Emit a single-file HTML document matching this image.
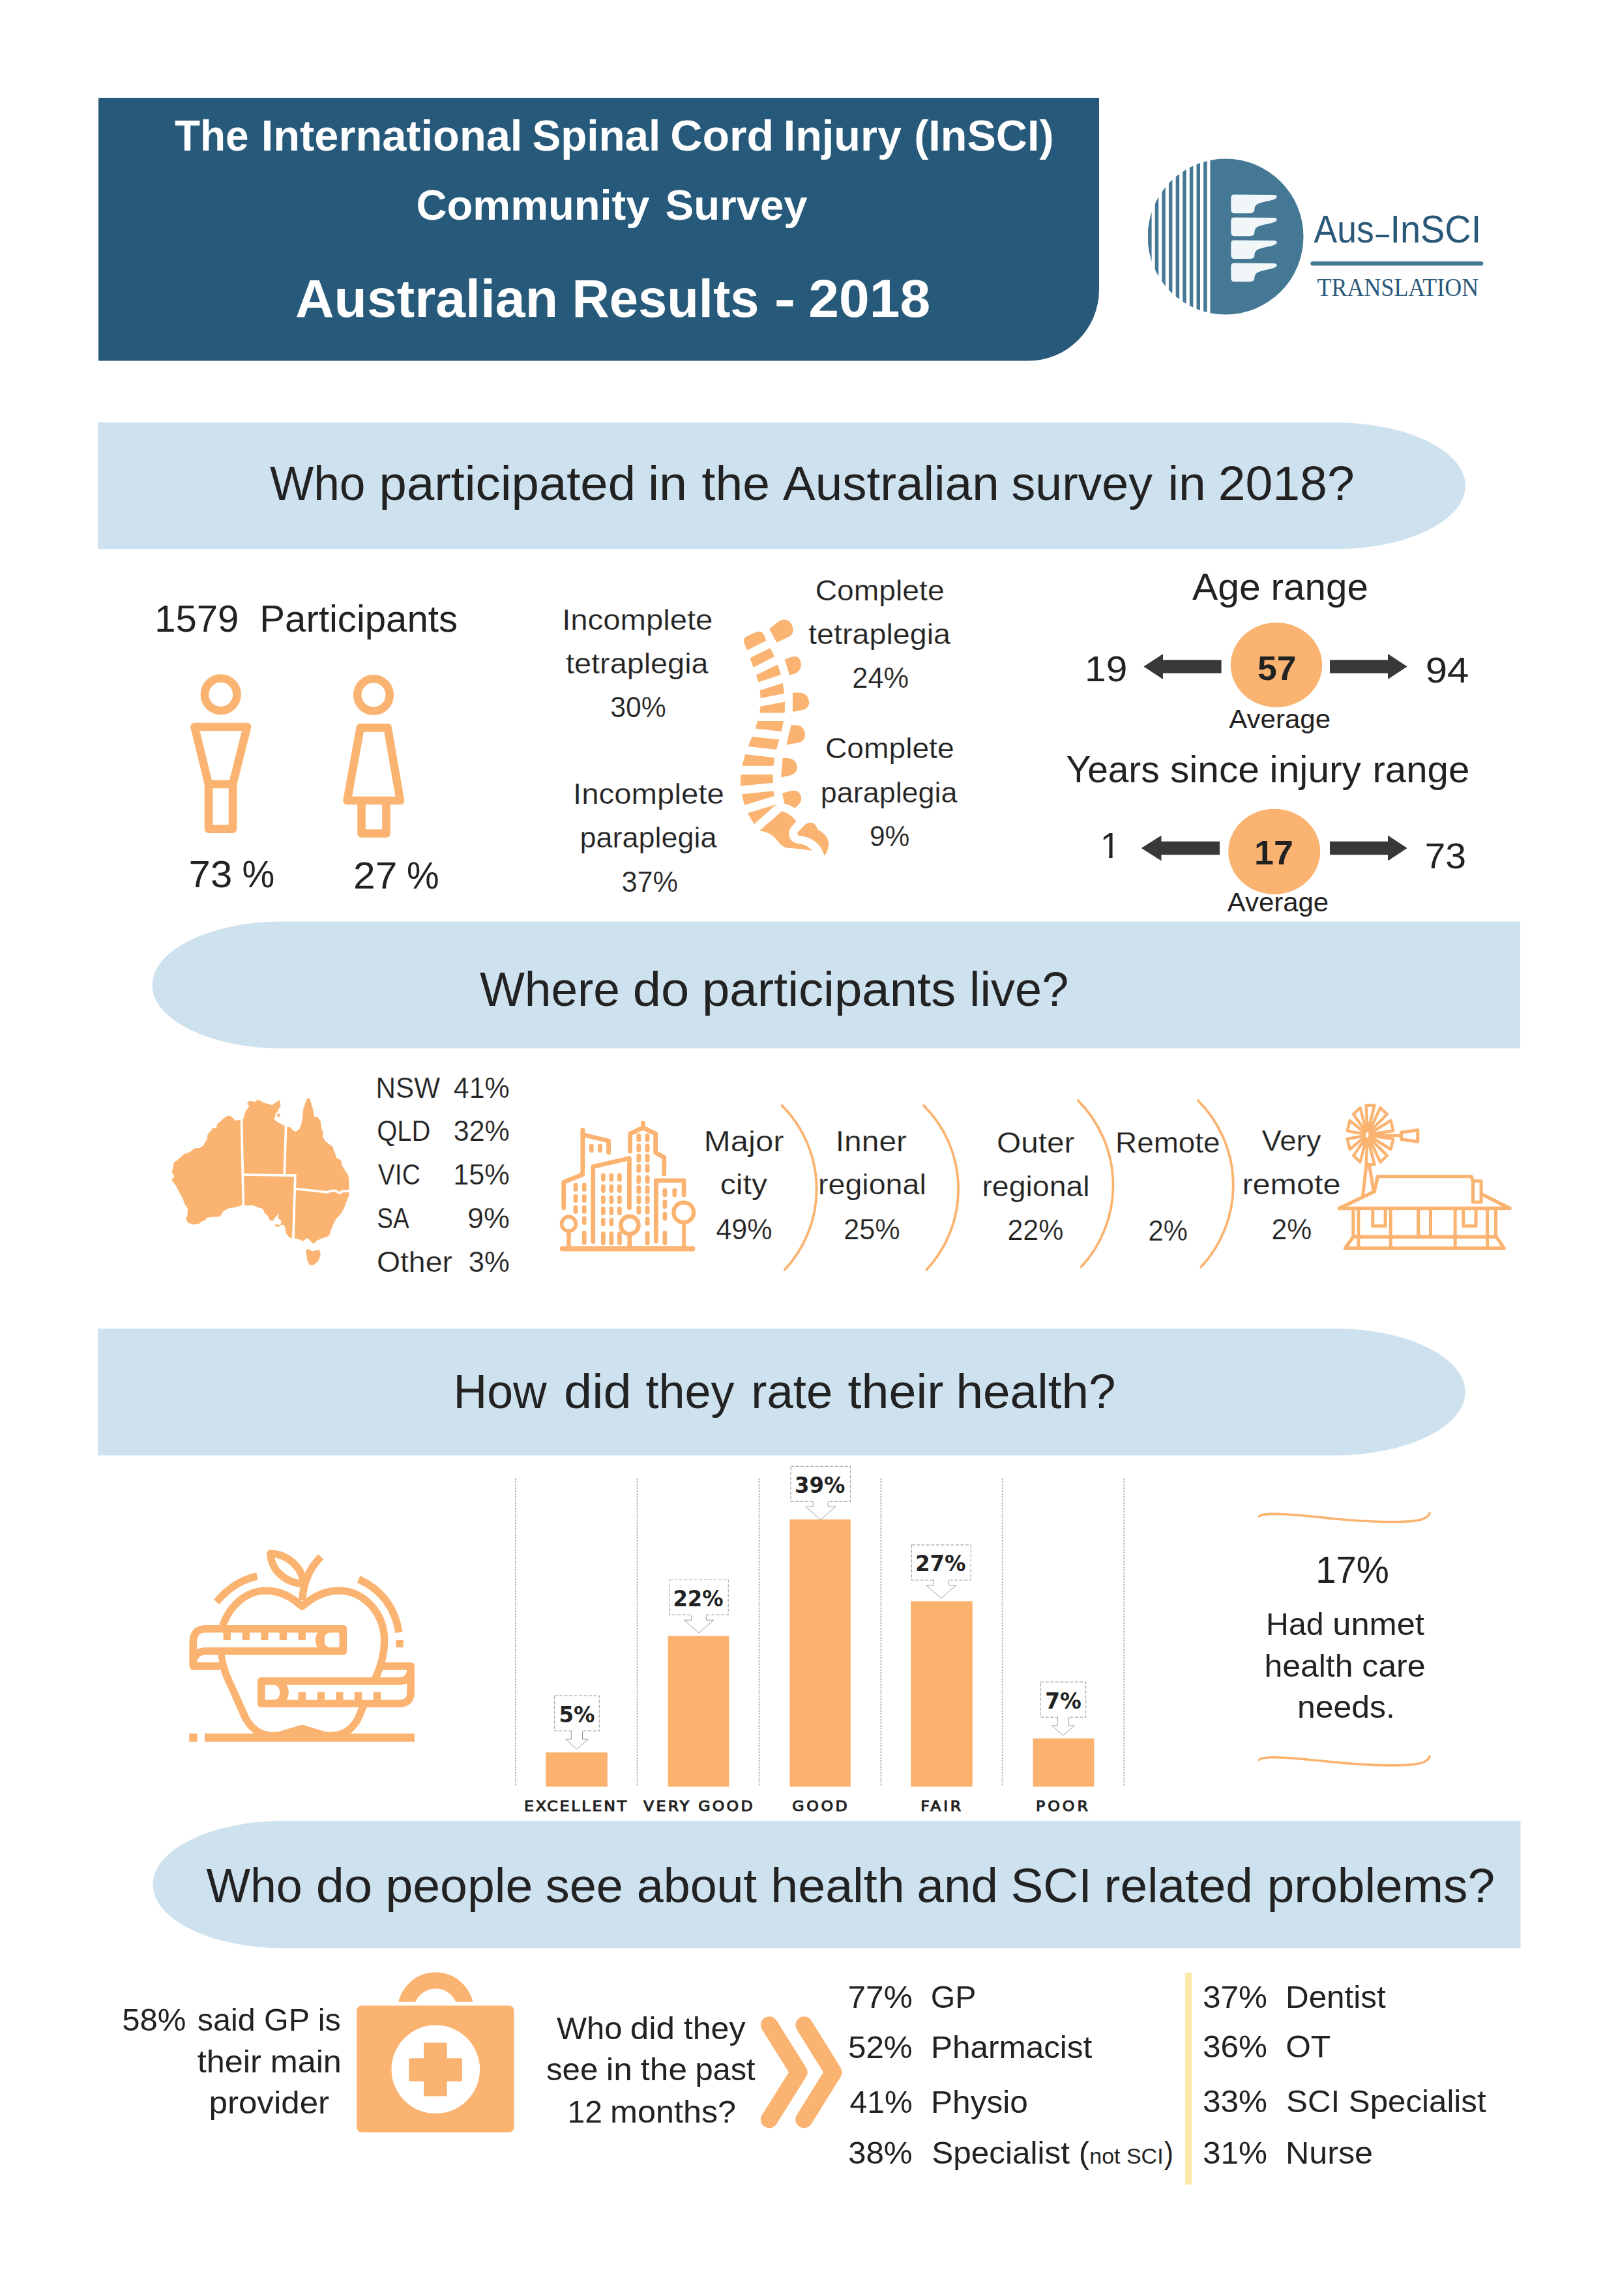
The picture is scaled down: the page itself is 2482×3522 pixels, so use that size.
<!DOCTYPE html>
<html lang="en"><head><meta charset="utf-8"><title>InSCI Community Survey - Australian Results 2018</title>
<style>
html,body{margin:0;padding:0;background:#ffffff}
svg{display:block}
text{white-space:pre}
.ls{font-family:"Liberation Sans",sans-serif;font-weight:400}
.lsb{font-family:"Liberation Sans",sans-serif;font-weight:700}
.lserif{font-family:"Liberation Serif",serif;font-weight:400}
.dvb{font-family:"DejaVu Sans",sans-serif;font-weight:700}
.dv{font-family:"DejaVu Sans",sans-serif;font-weight:400}
</style></head><body>
<svg width="2482" height="3522" viewBox="0 0 2482 3522">
<rect width="2482" height="3522" fill="#ffffff"/>
<!-- header -->
<path d="M151,150 H1686 V444.5 A109,109 0 0 1 1577,553.5 H151 Z" fill="#26597a"/>
<text class="lsb" x="267.9" y="231.0" font-size="65.8" fill="#ffffff" textLength="113.7" lengthAdjust="spacingAndGlyphs">The</text>
<text class="lsb" x="400.7" y="231.0" font-size="65.8" fill="#ffffff" textLength="400.7" lengthAdjust="spacingAndGlyphs">International</text>
<text class="lsb" x="816.5" y="231.0" font-size="65.8" fill="#ffffff" textLength="196.8" lengthAdjust="spacingAndGlyphs">Spinal</text>
<text class="lsb" x="1028.3" y="231.0" font-size="65.8" fill="#ffffff" textLength="158.9" lengthAdjust="spacingAndGlyphs">Cord</text>
<text class="lsb" x="1201.7" y="231.0" font-size="65.8" fill="#ffffff" textLength="181.3" lengthAdjust="spacingAndGlyphs">Injury</text>
<text class="lsb" x="1402.2" y="231.0" font-size="65.8" fill="#ffffff" textLength="214.4" lengthAdjust="spacingAndGlyphs">(InSCI)</text>
<text class="lsb" x="638.6" y="337.0" font-size="65.6" fill="#ffffff" textLength="357.8" lengthAdjust="spacingAndGlyphs">Community</text>
<text class="lsb" x="1020.6" y="337.0" font-size="65.6" fill="#ffffff" textLength="218.1" lengthAdjust="spacingAndGlyphs">Survey</text>
<text class="lsb" x="453.1" y="486.0" font-size="81.5" fill="#ffffff" textLength="402.9" lengthAdjust="spacingAndGlyphs">Australian</text>
<text class="lsb" x="877.4" y="486.0" font-size="81.5" fill="#ffffff" textLength="287.2" lengthAdjust="spacingAndGlyphs">Results</text>
<text class="lsb" x="1187.5" y="486.0" font-size="81.5" fill="#ffffff" textLength="32.9" lengthAdjust="spacingAndGlyphs">-</text>
<text class="lsb" x="1240.3" y="486.0" font-size="81.5" fill="#ffffff" textLength="186.8" lengthAdjust="spacingAndGlyphs">2018</text>
<!-- logo -->
<clipPath id="lc"><circle cx="1880" cy="363" r="119.5"/></clipPath>
<g clip-path="url(#lc)" fill="#447895">
<rect x="1856.4" y="240" width="150" height="250"/>
<rect x="1846.1" y="240" width="5.5" height="250"/>
<rect x="1835.5" y="240" width="5.5" height="250"/>
<rect x="1824.8" y="240" width="5.5" height="250"/>
<rect x="1814.2" y="240" width="5.5" height="250"/>
<rect x="1803.6" y="240" width="5.5" height="250"/>
<rect x="1792.9" y="240" width="5.5" height="250"/>
<rect x="1782.3" y="240" width="5.5" height="250"/>
<rect x="1771.7" y="240" width="5.5" height="250"/>
<rect x="1761.1" y="240" width="5.5" height="250"/>
</g>
<path transform="translate(1888,297.8)" d="M4,0.8 L67,1.3 Q71.5,1.8 70.5,5 Q69,8 60,10 Q47,12.5 41.5,15 Q36.8,17.5 36.5,22 L36,26 Q35,29 30,29.4 L5,29.4 Q0.5,29 0.3,24 L0.3,6 Q0.5,1 4,0.8 Z" fill="#f1f6f9"/>
<path transform="translate(1888,332.8)" d="M4,0.8 L67,1.3 Q71.5,1.8 70.5,5 Q69,8 60,10 Q47,12.5 41.5,15 Q36.8,17.5 36.5,22 L36,26 Q35,29 30,29.4 L5,29.4 Q0.5,29 0.3,24 L0.3,6 Q0.5,1 4,0.8 Z" fill="#f1f6f9"/>
<path transform="translate(1888,367.7)" d="M4,0.8 L67,1.3 Q71.5,1.8 70.5,5 Q69,8 60,10 Q47,12.5 41.5,15 Q36.8,17.5 36.5,22 L36,26 Q35,29 30,29.4 L5,29.4 Q0.5,29 0.3,24 L0.3,6 Q0.5,1 4,0.8 Z" fill="#f1f6f9"/>
<path transform="translate(1888,402.7)" d="M4,0.8 L67,1.3 Q71.5,1.8 70.5,5 Q69,8 60,10 Q47,12.5 41.5,15 Q36.8,17.5 36.5,22 L36,26 Q35,29 30,29.4 L5,29.4 Q0.5,29 0.3,24 L0.3,6 Q0.5,1 4,0.8 Z" fill="#f1f6f9"/>
<text class="ls" x="2015.6" y="372.3" font-size="59.5" fill="#2a5878" textLength="92.1" lengthAdjust="spacingAndGlyphs">Aus</text>
<text class="ls" x="2110.5" y="376.8" font-size="59.5" fill="#2a5878" textLength="20.4" lengthAdjust="spacingAndGlyphs">–</text>
<text class="ls" x="2132.4" y="372.3" font-size="59.5" fill="#2a5878" textLength="139.9" lengthAdjust="spacingAndGlyphs">InSCI</text>
<line x1="2013.6" y1="404.3" x2="2272" y2="404.3" stroke="#447895" stroke-width="6.5" stroke-linecap="round"/>
<text class="lserif" x="2020.6" y="454.3" font-size="39.8" fill="#2a5878" textLength="247.5" lengthAdjust="spacingAndGlyphs">TRANSLATION</text>
<!-- banners -->
<path d="M150,648 H2048 A200,97.14999999999998 0 0 1 2048,842.3 H150 Z" fill="#cee1ef"/>
<path d="M2332,1413.5 H433.5 A200,97.39999999999998 0 0 0 433.5,1608.3 H2332 Z" fill="#cee1ef"/>
<path d="M150,2038 H2047.6999999999998 A200,97.25 0 0 1 2047.6999999999998,2232.5 H150 Z" fill="#cee1ef"/>
<path d="M2332.5,2793.2 H434.5 A200,97.60000000000014 0 0 0 434.5,2988.4 H2332.5 Z" fill="#cee1ef"/>
<text class="ls" x="413.9" y="767.0" font-size="75" fill="#222222" textLength="146.6" lengthAdjust="spacingAndGlyphs">Who</text>
<text class="ls" x="581.6" y="767.0" font-size="75" fill="#222222" textLength="393.4" lengthAdjust="spacingAndGlyphs">participated</text>
<text class="ls" x="993.9" y="767.0" font-size="75" fill="#222222" textLength="60.2" lengthAdjust="spacingAndGlyphs">in</text>
<text class="ls" x="1076.6" y="767.0" font-size="75" fill="#222222" textLength="104.3" lengthAdjust="spacingAndGlyphs">the</text>
<text class="ls" x="1201.1" y="767.0" font-size="75" fill="#222222" textLength="331.5" lengthAdjust="spacingAndGlyphs">Australian</text>
<text class="ls" x="1551.6" y="767.0" font-size="75" fill="#222222" textLength="216.3" lengthAdjust="spacingAndGlyphs">survey</text>
<text class="ls" x="1791.4" y="767.0" font-size="75" fill="#222222" textLength="58.4" lengthAdjust="spacingAndGlyphs">in</text>
<text class="ls" x="1868.7" y="767.0" font-size="75" fill="#222222" textLength="209.0" lengthAdjust="spacingAndGlyphs">2018?</text>
<text class="ls" x="735.9" y="1543.2" font-size="75" fill="#222222" textLength="215.1" lengthAdjust="spacingAndGlyphs">Where</text>
<text class="ls" x="970.8" y="1543.2" font-size="75" fill="#222222" textLength="86.5" lengthAdjust="spacingAndGlyphs">do</text>
<text class="ls" x="1077.0" y="1543.2" font-size="75" fill="#222222" textLength="389.2" lengthAdjust="spacingAndGlyphs">participants</text>
<text class="ls" x="1487.1" y="1543.2" font-size="75" fill="#222222" textLength="152.2" lengthAdjust="spacingAndGlyphs">live?</text>
<text class="ls" x="695.5" y="2159.7" font-size="75" fill="#222222" textLength="143.2" lengthAdjust="spacingAndGlyphs">How</text>
<text class="ls" x="865.1" y="2159.7" font-size="75" fill="#222222" textLength="103.5" lengthAdjust="spacingAndGlyphs">did</text>
<text class="ls" x="990.4" y="2159.7" font-size="75" fill="#222222" textLength="136.1" lengthAdjust="spacingAndGlyphs">they</text>
<text class="ls" x="1152.3" y="2159.7" font-size="75" fill="#222222" textLength="125.0" lengthAdjust="spacingAndGlyphs">rate</text>
<text class="ls" x="1300.6" y="2159.7" font-size="75" fill="#222222" textLength="146.7" lengthAdjust="spacingAndGlyphs">their</text>
<text class="ls" x="1466.6" y="2159.7" font-size="75" fill="#222222" textLength="244.9" lengthAdjust="spacingAndGlyphs">health?</text>
<text class="ls" x="316.4" y="2917.8" font-size="74.3" fill="#222222" textLength="147.2" lengthAdjust="spacingAndGlyphs">Who</text>
<text class="ls" x="484.8" y="2917.8" font-size="74.3" fill="#222222" textLength="86.4" lengthAdjust="spacingAndGlyphs">do</text>
<text class="ls" x="591.4" y="2917.8" font-size="74.3" fill="#222222" textLength="226.0" lengthAdjust="spacingAndGlyphs">people</text>
<text class="ls" x="836.8" y="2917.8" font-size="74.3" fill="#222222" textLength="119.2" lengthAdjust="spacingAndGlyphs">see</text>
<text class="ls" x="976.7" y="2917.8" font-size="74.3" fill="#222222" textLength="184.4" lengthAdjust="spacingAndGlyphs">about</text>
<text class="ls" x="1182.3" y="2917.8" font-size="74.3" fill="#222222" textLength="205.4" lengthAdjust="spacingAndGlyphs">health</text>
<text class="ls" x="1406.6" y="2917.8" font-size="74.3" fill="#222222" textLength="124.3" lengthAdjust="spacingAndGlyphs">and</text>
<text class="ls" x="1550.6" y="2917.8" font-size="74.3" fill="#222222" textLength="124.3" lengthAdjust="spacingAndGlyphs">SCI</text>
<text class="ls" x="1693.5" y="2917.8" font-size="74.3" fill="#222222" textLength="228.4" lengthAdjust="spacingAndGlyphs">related</text>
<text class="ls" x="1943.7" y="2917.8" font-size="74.3" fill="#222222" textLength="349.3" lengthAdjust="spacingAndGlyphs">problems?</text>
<!-- participants -->
<text class="ls" x="237.2" y="968.6" font-size="57" fill="#222222" textLength="129.0" lengthAdjust="spacingAndGlyphs">1579</text>
<text class="ls" x="398.3" y="968.6" font-size="57" fill="#222222" textLength="303.7" lengthAdjust="spacingAndGlyphs">Participants</text>
<g fill="none" stroke="#fab370" stroke-width="12.6" stroke-linejoin="round">
<circle cx="338.7" cy="1065.3" r="24.8"/>
<path d="M298.5,1115 H379 L357,1203 V1271.6 H320 V1203 Z M320,1203 H357"/>
<circle cx="573" cy="1066" r="24.8"/>
<path d="M552.7,1116.4 H594.6 L614,1228 H532.6 Z"/>
<path d="M554.5,1228 V1278.5 H592.5 V1228"/>
</g>
<text class="ls" x="289.6" y="1360.8" font-size="57.5" fill="#222222" textLength="66.6" lengthAdjust="spacingAndGlyphs">73</text>
<text class="ls" x="371.6" y="1360.8" font-size="57.5" fill="#222222" textLength="49.7" lengthAdjust="spacingAndGlyphs">%</text>
<text class="ls" x="542.1" y="1362.9" font-size="57.5" fill="#222222" textLength="67.3" lengthAdjust="spacingAndGlyphs">27</text>
<text class="ls" x="624.1" y="1362.9" font-size="57.5" fill="#222222" textLength="49.6" lengthAdjust="spacingAndGlyphs">%</text>
<text class="ls" x="862.2" y="965.8" font-size="43.5" fill="#222222" textLength="231.2" lengthAdjust="spacingAndGlyphs" stroke="#ffffff" stroke-width="0.25">Incomplete</text>
<text class="ls" x="868.0" y="1032.5" font-size="43.5" fill="#222222" textLength="218.6" lengthAdjust="spacingAndGlyphs" stroke="#ffffff" stroke-width="0.25">tetraplegia</text>
<text class="ls" x="936.2" y="1099.7" font-size="43.5" fill="#222222" textLength="85.6" lengthAdjust="spacingAndGlyphs" stroke="#ffffff" stroke-width="0.25">30%</text>
<text class="ls" x="1250.7" y="921.4" font-size="43.5" fill="#222222" textLength="198.0" lengthAdjust="spacingAndGlyphs" stroke="#ffffff" stroke-width="0.25">Complete</text>
<text class="ls" x="1240.1" y="988.2" font-size="43.5" fill="#222222" textLength="218.0" lengthAdjust="spacingAndGlyphs" stroke="#ffffff" stroke-width="0.25">tetraplegia</text>
<text class="ls" x="1307.3" y="1055.3" font-size="43.5" fill="#222222" textLength="86.7" lengthAdjust="spacingAndGlyphs" stroke="#ffffff" stroke-width="0.25">24%</text>
<text class="ls" x="1266.0" y="1163.4" font-size="43.5" fill="#222222" textLength="197.6" lengthAdjust="spacingAndGlyphs" stroke="#ffffff" stroke-width="0.25">Complete</text>
<text class="ls" x="1258.7" y="1230.8" font-size="43.5" fill="#222222" textLength="209.9" lengthAdjust="spacingAndGlyphs" stroke="#ffffff" stroke-width="0.25">paraplegia</text>
<text class="ls" x="1333.9" y="1297.7" font-size="43.5" fill="#222222" textLength="61.5" lengthAdjust="spacingAndGlyphs" stroke="#ffffff" stroke-width="0.25">9%</text>
<text class="ls" x="879.1" y="1233.4" font-size="43.5" fill="#222222" textLength="231.7" lengthAdjust="spacingAndGlyphs" stroke="#ffffff" stroke-width="0.25">Incomplete</text>
<text class="ls" x="889.6" y="1300.1" font-size="43.5" fill="#222222" textLength="209.9" lengthAdjust="spacingAndGlyphs" stroke="#ffffff" stroke-width="0.25">paraplegia</text>
<text class="ls" x="953.4" y="1367.8" font-size="43.5" fill="#222222" textLength="86.8" lengthAdjust="spacingAndGlyphs" stroke="#ffffff" stroke-width="0.25">37%</text>
<!-- spine -->
<g fill="#fab370">
<path d="M1146.1,997.6 L1141.5,986.5 Q1139,978.5 1147,975.3 L1160.5,969.6 Q1168,967 1171.5,973.3 L1175.5,982.6 Z"/>
<path d="M1180.1,964.7 L1195.6,952.4 Q1205,947.5 1212,954.5 Q1218.5,962.5 1216,970 Q1214.5,974.5 1210,977 L1191.4,985.4 Z"/>
<path d="M1150.5,1009.3 L1181.5,994.1 L1188,1007.2 L1155.5,1023.8 Z"/>
<path d="M1159.9,1035.4 L1192.8,1019.5 L1198,1035.1 L1163.3,1046.6 Z"/>
<path d="M1203.7,1011.4 L1214.5,1007.5 Q1226,1004.5 1228.5,1016 Q1230,1029 1220,1033 L1211.2,1035.8 Z"/>
<path d="M1165.7,1059 L1200.7,1047.7 L1203.2,1063.8 L1166.8,1071 Z"/>
<path d="M1166.5,1083.7 L1204.1,1076.4 L1203.7,1093.6 L1165.2,1093.6 Z"/>
<path d="M1216.1,1062.4 L1227,1062.4 Q1239,1063.5 1241.3,1076.6 Q1241.5,1086 1232,1089 L1215.9,1092.1 Z"/>
<path d="M1162,1106 L1202,1106 L1198.8,1122.1 L1158.7,1117.6 Z"/>
<path d="M1213.5,1112.3 L1223,1112.3 Q1233.5,1114 1235.2,1127 Q1234.5,1137 1225,1139.3 L1206.2,1142.6 Z"/>
<path d="M1153.6,1130 L1195.4,1134.5 L1190.9,1149.7 L1147.8,1144.9 Z"/>
<path d="M1143.3,1157 L1188.3,1162.2 L1186.4,1174.8 L1138.1,1174.8 Z"/>
<path d="M1200.7,1163.1 L1209,1163.1 Q1221.5,1164.5 1222.8,1177 Q1222.5,1186.5 1213,1189.2 L1198,1192.5 Z"/>
<path d="M1136.3,1188.3 L1185.4,1188.1 L1186,1200.7 L1136,1205.8 Z"/>
<path d="M1137.9,1218.2 L1186.4,1213.2 L1188,1221.1 L1141.9,1235 Z"/>
<path d="M1200.1,1216.7 L1214,1213 Q1226,1211 1229,1222 Q1230,1229 1226,1233 L1219.8,1239.8 Q1212,1234.5 1203,1232.2 Z"/>
<path d="M1147,1247.3 L1190.9,1234 L1156.8,1264.2 Z"/>
<path d="M1165.2,1274.2 L1199.5,1244.3 Q1213,1248 1221.4,1260.3 Q1213,1268 1211,1274 Q1208,1285 1217,1291.5 Q1222,1294.5 1230.3,1295 Q1238,1296.5 1246.1,1304.9 Q1222,1301 1207.2,1300.7 Q1199,1299 1192,1289 Q1183,1276.5 1165.2,1274.2 Z"/>
<path d="M1223.5,1276.6 L1235.6,1264.5 Q1243,1259.5 1249,1263.5 Q1252.5,1267 1254.5,1272.4 Q1265,1278 1269,1286 Q1275,1299 1264.5,1312.8 Q1261,1299 1250,1290.5 Q1240,1283.5 1225.5,1281.8 Q1222,1279.5 1223.5,1276.6 Z"/>
</g>
<!-- age -->
<text class="ls" x="1829.0" y="919.6" font-size="57.5" fill="#222222" textLength="104.7" lengthAdjust="spacingAndGlyphs">Age</text>
<text class="ls" x="1949.6" y="919.6" font-size="57.5" fill="#222222" textLength="149.3" lengthAdjust="spacingAndGlyphs">range</text>
<text class="ls" x="1635.5" y="1200.3" font-size="57.5" fill="#222222" textLength="143.2" lengthAdjust="spacingAndGlyphs">Years</text>
<text class="ls" x="1795.0" y="1200.3" font-size="57.5" fill="#222222" textLength="136.9" lengthAdjust="spacingAndGlyphs">since</text>
<text class="ls" x="1947.6" y="1200.3" font-size="57.5" fill="#222222" textLength="140.4" lengthAdjust="spacingAndGlyphs">injury</text>
<text class="ls" x="2105.5" y="1200.3" font-size="57.5" fill="#222222" textLength="148.8" lengthAdjust="spacingAndGlyphs">range</text>
<ellipse cx="1958" cy="1020" rx="70.2" ry="65" fill="#fab370"/>
<ellipse cx="1954.7" cy="1306.2" rx="70.5" ry="65.5" fill="#fab370"/>
<text class="lsb" x="1928.9" y="1043.2" font-size="51.5" fill="#222222" textLength="59.5" lengthAdjust="spacingAndGlyphs">57</text>
<text class="lsb" x="1924.1" y="1326.3" font-size="51.5" fill="#222222" textLength="59.9" lengthAdjust="spacingAndGlyphs">17</text>
<text class="ls" x="1664.1" y="1044.7" font-size="56" fill="#222222" textLength="65.2" lengthAdjust="spacingAndGlyphs">19</text>
<text class="ls" x="2186.7" y="1047.0" font-size="56" fill="#222222" textLength="66.6" lengthAdjust="spacingAndGlyphs">94</text>
<clipPath id="one"><rect x="1680" y="1270" width="40" height="40.5"/><rect x="1701.2" y="1270" width="5.4" height="47"/></clipPath>
<text class="ls" x="1687.5" y="1315.9" font-size="56" fill="#222222" clip-path="url(#one)">1</text>
<text class="ls" x="2185.5" y="1332.2" font-size="56" fill="#222222" textLength="63.6" lengthAdjust="spacingAndGlyphs">73</text>
<text class="ls" x="1885.3" y="1116.6" font-size="41.4" fill="#222222" textLength="155.7" lengthAdjust="spacingAndGlyphs">Average</text>
<text class="ls" x="1882.8" y="1397.7" font-size="41.4" fill="#222222" textLength="155.2" lengthAdjust="spacingAndGlyphs">Average</text>
<path d="M1754.3,1022.5 L1784,1003.0 V1012.3 H1873.6 V1032.7 H1784 V1042.0 Z" fill="#383838"/>
<path d="M2158.7,1022.5 L2129,1003.0 V1012.3 H2040 V1032.7 H2129 V1042.0 Z" fill="#383838"/>
<path d="M1750.8,1301 L1781.5,1281.5 V1290.8 H1871 V1311.2 H1781.5 V1320.5 Z" fill="#383838"/>
<path d="M2158.7,1301 L2129,1281.5 V1290.8 H2040 V1311.2 H2129 V1320.5 Z" fill="#383838"/>
<!-- australia -->
<g transform="translate(250,1670) scale(0.18541)">
<polygon points="640,262 600,268 570,240 545,225 515,240 490,262 465,285 450,300 448,322 405,335 420,365 400,350 385,365 370,390 372,415 355,440 335,475 300,495 265,497 235,520 210,535 185,540 150,570 115,600 95,610 88,650 78,690 100,730 75,755 110,800 135,850 165,900 180,945 210,995 205,1050 192,1080 210,1105 245,1120 295,1115 325,1092 350,1085 355,1065 400,1057 465,1055 480,1040 495,1012 545,985 600,978 650,960 700,963 745,960 790,980 830,990 840,1020 870,1050 885,1085 905,1090 935,1050 955,1030 965,1020 955,1070 975,1080 985,1105 975,1125 1000,1120 1015,1150 1020,1190 1040,1220 1065,1235 1100,1235 1135,1245 1155,1258 1195,1230 1215,1250 1245,1278 1270,1255 1310,1235 1360,1220 1375,1205 1385,1170 1405,1120 1430,1075 1470,1030 1495,985 1515,930 1535,880 1535,780 1530,720 1505,680 1475,635 1470,595 1430,575 1425,545 1410,515 1400,480 1370,460 1335,430 1320,400 1320,360 1305,320 1300,270 1275,235 1250,240 1240,180 1225,130 1210,85 1195,85 1180,125 1165,170 1160,230 1150,290 1130,340 1095,362 1070,345 1055,325 1010,318 985,300 945,280 915,255 925,225 930,200 945,190 955,160 970,145 960,100 905,140 870,130 830,120 800,100 775,100 770,115 750,110 715,105 700,125 720,140 700,170 685,195 675,230 665,258" fill="#fab370" stroke="#fab370" stroke-width="8" stroke-linejoin="round"/>
<polygon points="1185,1340 1200,1330 1240,1350 1290,1335 1300,1375 1280,1425 1245,1455 1215,1455 1195,1410 1190,1370" fill="#fab370" stroke="#fab370" stroke-width="8" stroke-linejoin="round"/>
<rect x="945" y="208" width="24" height="22" fill="#fab370"/>
<ellipse cx="947" cy="1132" rx="24" ry="9" fill="#fab370"/>
<g fill="none" stroke="#ffffff" stroke-width="20">
<path d="M650,250 L665,965"/>
<path d="M1017,310 L1005,708"/>
<path d="M665,712 L1094,718 L1078,1240"/>
<path d="M1092,828 L1360,857 Q1400,835 1440,850 Q1460,875 1480,850 L1545,845"/>
</g></g>
<text class="ls" x="576.6" y="1683.6" font-size="43.5" fill="#222222" textLength="98.5" lengthAdjust="spacingAndGlyphs" stroke="#ffffff" stroke-width="0.25">NSW</text>
<text class="ls" x="695.8" y="1683.6" font-size="43.5" fill="#222222" textLength="85.9" lengthAdjust="spacingAndGlyphs" stroke="#ffffff" stroke-width="0.25">41%</text>
<text class="ls" x="578.2" y="1749.8" font-size="43.5" fill="#222222" textLength="82.2" lengthAdjust="spacingAndGlyphs" stroke="#ffffff" stroke-width="0.25">QLD</text>
<text class="ls" x="695.8" y="1749.8" font-size="43.5" fill="#222222" textLength="86.0" lengthAdjust="spacingAndGlyphs" stroke="#ffffff" stroke-width="0.25">32%</text>
<text class="ls" x="579.8" y="1816.9" font-size="43.5" fill="#222222" textLength="65.1" lengthAdjust="spacingAndGlyphs" stroke="#ffffff" stroke-width="0.25">VIC</text>
<text class="ls" x="695.2" y="1816.9" font-size="43.5" fill="#222222" textLength="86.6" lengthAdjust="spacingAndGlyphs" stroke="#ffffff" stroke-width="0.25">15%</text>
<text class="ls" x="578.3" y="1883.9" font-size="43.5" fill="#222222" textLength="49.4" lengthAdjust="spacingAndGlyphs" stroke="#ffffff" stroke-width="0.25">SA</text>
<text class="ls" x="717.0" y="1883.9" font-size="43.5" fill="#222222" textLength="64.8" lengthAdjust="spacingAndGlyphs" stroke="#ffffff" stroke-width="0.25">9%</text>
<text class="ls" x="577.9" y="1951.0" font-size="43.5" fill="#222222" textLength="116.0" lengthAdjust="spacingAndGlyphs" stroke="#ffffff" stroke-width="0.25">Other</text>
<text class="ls" x="718.8" y="1951.0" font-size="43.5" fill="#222222" textLength="63.0" lengthAdjust="spacingAndGlyphs" stroke="#ffffff" stroke-width="0.25">3%</text>
<!-- city -->
<g transform="translate(850,1700) scale(0.14215)" fill="none" stroke="#fab370" stroke-width="48" stroke-linecap="round" stroke-linejoin="round">
<path d="M90,1516 H1495" stroke-width="55"/>
<path d="M103,1075 V798 L308,716 V235 M308,285 L588,352 V478"/>
<path d="M420,1440 V630 L812,540 V1075"/>
<path d="M960,160 V205 M820,465 V275 L960,210 L1095,275 V478 L1187,530 V710"/>
<path d="M1100,1435 V780 H1400 V935"/>
<path d="M403,410 V455"/>
<path d="M495,410 V455"/>
<path d="M232,830 V875"/>
<path d="M232,950 V995"/>
<path d="M232,1070 V1115"/>
<path d="M325,830 V875"/>
<path d="M325,950 V995"/>
<path d="M325,1070 V1115"/>
<path d="M325,1190 V1235"/>
<path d="M325,1345 V1450"/>
<path d="M530,725 V770"/>
<path d="M530,845 V890"/>
<path d="M530,965 V1010"/>
<path d="M530,1085 V1130"/>
<path d="M530,1355 V1455"/>
<path d="M618,725 V770"/>
<path d="M618,845 V890"/>
<path d="M618,965 V1010"/>
<path d="M618,1085 V1130"/>
<path d="M618,1355 V1455"/>
<path d="M706,725 V770"/>
<path d="M706,845 V890"/>
<path d="M706,965 V1010"/>
<path d="M706,1085 V1130"/>
<path d="M706,1355 V1455"/>
<path d="M530,1205 V1250"/>
<path d="M618,1205 V1250"/>
<path d="M913,295 V342"/>
<path d="M1007,295 V342"/>
<path d="M913,405 V452"/>
<path d="M1007,405 V452"/>
<path d="M913,515 V562"/>
<path d="M1007,515 V562"/>
<path d="M913,625 V672"/>
<path d="M1007,625 V672"/>
<path d="M913,745 V792"/>
<path d="M1007,745 V792"/>
<path d="M913,855 V902"/>
<path d="M1007,855 V902"/>
<path d="M913,965 V1012"/>
<path d="M1007,965 V1012"/>
<path d="M913,1075 V1122"/>
<path d="M1007,1075 V1122"/>
<path d="M1007,1195 V1245"/>
<path d="M1007,1350 V1455"/>
<path d="M1195,885 V935"/>
<path d="M1300,885 V935"/>
<path d="M1195,1010 V1060"/>
<path d="M1195,1140 V1190"/>
<path d="M1195,1345 V1455"/>
<circle cx="158" cy="1248" r="77" fill="#ffffff" stroke-width="40"/><path d="M158,1335 V1500" stroke-width="45"/>
<circle cx="815" cy="1262" r="96" fill="#ffffff" stroke-width="46"/><path d="M815,1370 V1500" stroke-width="48"/>
<circle cx="1398" cy="1125" r="108" fill="#ffffff" stroke-width="44"/><path d="M1400,1245 V1500" stroke-width="40"/>
</g>
<text class="ls" x="1079.8" y="1765.9" font-size="43.5" fill="#222222" textLength="122.9" lengthAdjust="spacingAndGlyphs" stroke="#ffffff" stroke-width="0.25">Major</text>
<text class="ls" x="1104.7" y="1832.2" font-size="43.5" fill="#222222" textLength="72.3" lengthAdjust="spacingAndGlyphs" stroke="#ffffff" stroke-width="0.25">city</text>
<text class="ls" x="1098.4" y="1900.8" font-size="43.5" fill="#222222" textLength="86.3" lengthAdjust="spacingAndGlyphs" stroke="#ffffff" stroke-width="0.25">49%</text>
<text class="ls" x="1281.8" y="1765.9" font-size="43.5" fill="#222222" textLength="109.2" lengthAdjust="spacingAndGlyphs" stroke="#ffffff" stroke-width="0.25">Inner</text>
<text class="ls" x="1255.0" y="1832.2" font-size="43.5" fill="#222222" textLength="165.8" lengthAdjust="spacingAndGlyphs" stroke="#ffffff" stroke-width="0.25">regional</text>
<text class="ls" x="1294.2" y="1900.8" font-size="43.5" fill="#222222" textLength="86.5" lengthAdjust="spacingAndGlyphs" stroke="#ffffff" stroke-width="0.25">25%</text>
<text class="ls" x="1529.0" y="1767.9" font-size="43.5" fill="#222222" textLength="119.5" lengthAdjust="spacingAndGlyphs" stroke="#ffffff" stroke-width="0.25">Outer</text>
<text class="ls" x="1506.4" y="1834.9" font-size="43.5" fill="#222222" textLength="165.2" lengthAdjust="spacingAndGlyphs" stroke="#ffffff" stroke-width="0.25">regional</text>
<text class="ls" x="1545.4" y="1902.4" font-size="43.5" fill="#222222" textLength="86.1" lengthAdjust="spacingAndGlyphs" stroke="#ffffff" stroke-width="0.25">22%</text>
<text class="ls" x="1711.1" y="1767.5" font-size="43.5" fill="#222222" textLength="160.4" lengthAdjust="spacingAndGlyphs" stroke="#ffffff" stroke-width="0.25">Remote</text>
<text class="ls" x="1761.6" y="1903.0" font-size="43.5" fill="#222222" textLength="60.3" lengthAdjust="spacingAndGlyphs" stroke="#ffffff" stroke-width="0.25">2%</text>
<text class="ls" x="1935.4" y="1765.2" font-size="43.5" fill="#222222" textLength="91.1" lengthAdjust="spacingAndGlyphs" stroke="#ffffff" stroke-width="0.25">Very</text>
<text class="ls" x="1905.4" y="1832.2" font-size="43.5" fill="#222222" textLength="151.2" lengthAdjust="spacingAndGlyphs" stroke="#ffffff" stroke-width="0.25">remote</text>
<text class="ls" x="1950.6" y="1900.8" font-size="43.5" fill="#222222" textLength="61.7" lengthAdjust="spacingAndGlyphs" stroke="#ffffff" stroke-width="0.25">2%</text>
<path d="M1199.5,1695.9 A181.1,181.1 0 0 1 1203.8,1947.7" fill="none" stroke="#fab370" stroke-width="3.8" stroke-linecap="round"/>
<path d="M1417,1695.9 A181.1,181.1 0 0 1 1421.3,1947.7" fill="none" stroke="#fab370" stroke-width="3.8" stroke-linecap="round"/>
<path d="M1653.7,1688.2 A184.3,184.3 0 0 1 1658.6,1943.4" fill="none" stroke="#fab370" stroke-width="3.8" stroke-linecap="round"/>
<path d="M1837.7,1688.2 A183.6,183.6 0 0 1 1842.5,1943.4" fill="none" stroke="#fab370" stroke-width="3.8" stroke-linecap="round"/>
<!-- farm -->
<g transform="translate(2040,1680) scale(0.17923)" fill="none" stroke="#fab370" stroke-width="28" stroke-linecap="round" stroke-linejoin="round">
<path d="M80,968 H1540 M80,968 L380,825 L410,695 H1210 L1225,735 M1305,850 L1540,968" stroke-width="30"/>
<rect x="1225" y="735" width="70" height="180"/>
<path d="M312,600 L282,860 M338,600 L375,825"/>
<path d="M200,985 V1200"/>
<path d="M245,985 V1300"/>
<path d="M520,985 V1300"/>
<path d="M757,985 V1200"/>
<path d="M862,985 V1200"/>
<path d="M1072,985 V1300"/>
<path d="M1348,985 V1300"/>
<path d="M1420,985 V1200"/>
<path d="M367,985 V1120 H475 V985 M1143,985 V1120 H1250 V985"/>
<path d="M200,1212 H1425 M200,1212 L130,1310 H1490 L1425,1212" stroke-width="30"/>
<g stroke-width="25">
<path d="M322,322 L310,87 L382,87 Z"/>
<path d="M329,325 L432,108 L490,163 Z"/>
<path d="M333,334 L521,217 L543,306 Z"/>
<path d="M333,346 L543,374 L521,463 Z"/>
<path d="M329,355 L490,517 L432,572 Z"/>
<path d="M322,358 L382,593 L310,593 Z"/>
<path d="M315,355 L260,572 L202,517 Z"/>
<path d="M311,346 L171,463 L149,374 Z"/>
<path d="M311,334 L149,306 L171,217 Z"/>
<path d="M315,325 L202,163 L260,108 Z"/>
</g>
<ellipse cx="320" cy="340" rx="24" ry="36" fill="#ffffff" stroke-width="24"/>
<path d="M350,342 L610,346" stroke-width="26"/>
<path d="M612,318 L752,298 V398 L612,378 Z"/>
</g>
<!-- apple -->
<g transform="translate(260,2340) scale(0.25958)" fill="none" stroke="#fab370" stroke-width="44" stroke-linejoin="round">
<rect x="208" y="1230" width="1240" height="48" fill="#fab370" stroke="none"/><rect x="116" y="1230" width="48" height="48" fill="#fab370" stroke="none"/>
<path d="M783,478 C720,420 650,385 570,385 C430,385 300,520 300,700 C300,800 330,880 370,960 L450,1140 C500,1230 580,1250 650,1240 L783,1200 L916,1240 C990,1250 1070,1230 1115,1140 L1190,960 C1240,860 1270,780 1270,680 C1270,520 1150,385 1000,385 C920,385 850,420 783,478 Z" fill="#ffffff"/>
<path d="M690,1245 L783,1208 L876,1245 Z" fill="#fab370" stroke="none"/>
<path d="M785,440 C790,340 830,250 895,185"/>
<path d="M597,165 C700,170 790,250 790,345 C680,340 600,260 597,165 Z" fill="#ffffff"/>
<path d="M278,452 Q380,330 518,300"/>
<path d="M1118,318 Q1320,410 1356,632"/>
<rect x="1338" y="678" width="44" height="43" fill="#fab370" stroke="none"/>
<path d="M300,831 H140 V690 Q140,611 215,611 H1026 V743 H215 Q150,743 140,805" fill="#ffffff"/>
<path d="M140,743 V831 H300 L285,765 H210" fill="#ffffff" stroke="none"/>
<path d="M300,831 H140 V690 Q140,611 215,611 H1026 V743 H215 Q150,743 140,805"/>
<path d="M340,632 V678"/>
<path d="M452,632 V678"/>
<path d="M562,632 V678"/>
<path d="M672,632 V678"/>
<path d="M783,632 V678"/>
<path d="M905,628 Q865,677 905,726"/>
<path d="M880,632 H960 Q915,632 915,677 Q915,722 960,722 H880 Z" fill="#fab370" stroke="none"/>
<path d="M1262,831 H1426 V985 Q1426,1053 1355,1053 H542 V920 H1355 Q1418,920 1426,860" fill="#ffffff"/>
<path d="M1262,831 H1426 V985 Q1426,1053 1355,1053 H542 V920 H1355 Q1418,920 1426,860"/>
<path d="M783,985 V1032"/>
<path d="M895,985 V1032"/>
<path d="M1005,985 V1032"/>
<path d="M1115,985 V1032"/>
<path d="M1227,985 V1032"/>
<path d="M662,938 Q702,987 662,1036"/>
<path d="M690,942 H605 Q652,942 652,987 Q652,1032 605,1032 H690 Z" fill="#fab370" stroke="none"/>
</g>
<!-- chart -->
<line x1="790.9" y1="2268" x2="790.9" y2="2740" stroke="#b4b4b4" stroke-width="2" stroke-dasharray="2.5,2"/>
<line x1="977.6" y1="2268" x2="977.6" y2="2740" stroke="#b4b4b4" stroke-width="2" stroke-dasharray="2.5,2"/>
<line x1="1164.6" y1="2268" x2="1164.6" y2="2740" stroke="#b4b4b4" stroke-width="2" stroke-dasharray="2.5,2"/>
<line x1="1351.4" y1="2268" x2="1351.4" y2="2740" stroke="#b4b4b4" stroke-width="2" stroke-dasharray="2.5,2"/>
<line x1="1537.7" y1="2268" x2="1537.7" y2="2740" stroke="#b4b4b4" stroke-width="2" stroke-dasharray="2.5,2"/>
<line x1="1724.2" y1="2268" x2="1724.2" y2="2740" stroke="#b4b4b4" stroke-width="2" stroke-dasharray="2.5,2"/>
<rect x="837.3" y="2688.2" width="94.5" height="52.4" fill="#fbb26e"/>
<path d="M876.3,2655.2 V2668.1 H867.7 L884.9,2683.2 L902.1,2668.1 H893.5 V2655.2" fill="#ffffff" stroke="#9a9a9a" stroke-width="1"/>
<rect x="850.5" y="2601.2" width="68.8" height="54" fill="#ffffff" stroke="#a8a8a8" stroke-width="1.2" stroke-dasharray="5,2.5"/>
<rect x="876.9" y="2653.7" width="16.0" height="3" fill="#ffffff"/>
<text class="dvb" x="857.4" y="2641.7" font-size="33.3" fill="#222222" textLength="55.0" lengthAdjust="spacingAndGlyphs">5%</text>
<text class="dv" transform="translate(804.0,2777.8) scale(1.14,1)" font-size="20.7" fill="#222222" letter-spacing="2.54" stroke="#222222" stroke-width="1">EXCELLENT</text>
<rect x="1024.5" y="2509.5" width="94.0" height="231.1" fill="#fbb26e"/>
<path d="M1060.8,2477 V2485.2 H1049.5 L1072.1,2505.0 L1094.6,2485.2 H1083.4 V2477" fill="#ffffff" stroke="#9a9a9a" stroke-width="1"/>
<rect x="1027" y="2423" width="90.2" height="54" fill="#ffffff" stroke="#a8a8a8" stroke-width="1.2" stroke-dasharray="5,2.5"/>
<rect x="1061.4" y="2475.5" width="21.4" height="3" fill="#ffffff"/>
<text class="dvb" x="1032.4" y="2463.5" font-size="33.3" fill="#222222" textLength="77.2" lengthAdjust="spacingAndGlyphs">22%</text>
<text class="dv" transform="translate(987.1,2777.8) scale(1.14,1)" font-size="20.7" fill="#222222" letter-spacing="2.86" stroke="#222222" stroke-width="1">VERY GOOD</text>
<rect x="1211.5" y="2330.6" width="93.3" height="410.0" fill="#fbb26e"/>
<path d="M1247.3,2303.3 V2311.2 H1235.9 L1258.8,2331.3 L1281.6,2311.2 H1270.2 V2303.3" fill="#ffffff" stroke="#9a9a9a" stroke-width="1"/>
<rect x="1213" y="2249.3" width="91.5" height="54" fill="#ffffff" stroke="#a8a8a8" stroke-width="1.2" stroke-dasharray="5,2.5"/>
<rect x="1247.9" y="2301.8" width="21.7" height="3" fill="#ffffff"/>
<text class="dvb" x="1218.9" y="2289.8" font-size="33.3" fill="#222222" textLength="77.4" lengthAdjust="spacingAndGlyphs">39%</text>
<text class="dv" transform="translate(1215.3,2777.8) scale(1.14,1)" font-size="20.7" fill="#222222" letter-spacing="3.18" stroke="#222222" stroke-width="1">GOOD</text>
<rect x="1397.2" y="2456.3" width="94.6" height="284.3" fill="#fbb26e"/>
<path d="M1432.5,2423.8 V2431.8 H1421.1 L1443.8,2451.8 L1466.6,2431.8 H1455.2 V2423.8" fill="#ffffff" stroke="#9a9a9a" stroke-width="1"/>
<rect x="1398.4" y="2369.8" width="90.9" height="54" fill="#ffffff" stroke="#a8a8a8" stroke-width="1.2" stroke-dasharray="5,2.5"/>
<rect x="1433.1" y="2422.3" width="21.5" height="3" fill="#ffffff"/>
<text class="dvb" x="1403.9" y="2410.3" font-size="33.3" fill="#222222" textLength="77.7" lengthAdjust="spacingAndGlyphs">27%</text>
<text class="dv" transform="translate(1412.2,2777.8) scale(1.14,1)" font-size="20.7" fill="#222222" letter-spacing="3.24" stroke="#222222" stroke-width="1">FAIR</text>
<rect x="1584.5" y="2666.6" width="93.9" height="74.0" fill="#fbb26e"/>
<path d="M1622.3,2634.1 V2646.9 H1613.6 L1630.9,2662.1 L1648.3,2646.9 H1639.6 V2634.1" fill="#ffffff" stroke="#9a9a9a" stroke-width="1"/>
<rect x="1596.3" y="2580.1" width="69.3" height="54" fill="#ffffff" stroke="#a8a8a8" stroke-width="1.2" stroke-dasharray="5,2.5"/>
<rect x="1622.9" y="2632.6" width="16.1" height="3" fill="#ffffff"/>
<text class="dvb" x="1603.3" y="2620.6" font-size="33.3" fill="#222222" textLength="55.6" lengthAdjust="spacingAndGlyphs">7%</text>
<text class="dv" transform="translate(1589.0,2777.8) scale(1.14,1)" font-size="20.7" fill="#222222" letter-spacing="3.52" stroke="#222222" stroke-width="1">POOR</text>
<g fill="none" stroke="#fab370" stroke-width="3.6" stroke-linecap="round">
<path transform="translate(0,0)" d="M1931.6,2326 C1940,2318 2000,2325 2050,2330 C2100,2335 2160,2336.5 2180,2331 Q2192,2327 2193,2321"/>
<path transform="translate(0,373.4)" d="M1931.6,2326 C1940,2318 2000,2325 2050,2330 C2100,2335 2160,2336.5 2180,2331 Q2192,2327 2193,2321"/>
</g>
<text class="ls" x="2018.3" y="2427.9" font-size="57" fill="#222222" textLength="112.6" lengthAdjust="spacingAndGlyphs">17%</text>
<text class="ls" x="1942.1" y="2507.7" font-size="48.8" fill="#222222" textLength="88.5" lengthAdjust="spacingAndGlyphs">Had</text>
<text class="ls" x="2044.3" y="2507.7" font-size="48.8" fill="#222222" textLength="140.6" lengthAdjust="spacingAndGlyphs">unmet</text>
<text class="ls" x="1939.4" y="2571.6" font-size="48.8" fill="#222222" textLength="136.1" lengthAdjust="spacingAndGlyphs">health</text>
<text class="ls" x="2089.2" y="2571.6" font-size="48.8" fill="#222222" textLength="97.5" lengthAdjust="spacingAndGlyphs">care</text>
<text class="ls" x="1989.9" y="2635.3" font-size="48.8" fill="#222222" textLength="149.9" lengthAdjust="spacingAndGlyphs">needs.</text>
<!-- section 4 -->
<text class="ls" x="187.3" y="3114.8" font-size="48.8" fill="#222222" textLength="98.2" lengthAdjust="spacingAndGlyphs">58%</text>
<text class="ls" x="302.7" y="3114.8" font-size="48.8" fill="#222222" textLength="220.0" lengthAdjust="spacingAndGlyphs">said GP is</text>
<text class="ls" x="302.7" y="3178.6" font-size="48.8" fill="#222222" textLength="221.2" lengthAdjust="spacingAndGlyphs">their main</text>
<text class="ls" x="320.5" y="3242.3" font-size="48.8" fill="#222222" textLength="184.6" lengthAdjust="spacingAndGlyphs">provider</text>
<rect x="547.2" y="3076.6" width="241.3" height="194.4" rx="7.5" fill="#fab370"/>
<clipPath id="hc"><rect x="600" y="3020" width="140" height="50.7"/></clipPath>
<circle cx="668.3" cy="3084" r="46" fill="none" stroke="#fab370" stroke-width="24.8" clip-path="url(#hc)"/>
<circle cx="668.3" cy="3174.3" r="67.8" fill="#ffffff"/>
<rect x="627.3" y="3157.2" width="81.6" height="35.6" rx="2" fill="#fab370"/><rect x="650" y="3133.5" width="35.6" height="82.1" rx="2" fill="#fab370"/>
<text class="ls" x="854.0" y="3127.7" font-size="48.8" fill="#222222" textLength="100.4" lengthAdjust="spacingAndGlyphs">Who</text>
<text class="ls" x="966.7" y="3127.7" font-size="48.8" fill="#222222" textLength="68.4" lengthAdjust="spacingAndGlyphs">did</text>
<text class="ls" x="1048.8" y="3127.7" font-size="48.8" fill="#222222" textLength="94.7" lengthAdjust="spacingAndGlyphs">they</text>
<text class="ls" x="838.0" y="3190.7" font-size="48.8" fill="#222222" textLength="79.4" lengthAdjust="spacingAndGlyphs">see</text>
<text class="ls" x="929.7" y="3190.7" font-size="48.8" fill="#222222" textLength="40.1" lengthAdjust="spacingAndGlyphs">in</text>
<text class="ls" x="982.6" y="3190.7" font-size="48.8" fill="#222222" textLength="71.4" lengthAdjust="spacingAndGlyphs">the</text>
<text class="ls" x="1066.4" y="3190.7" font-size="48.8" fill="#222222" textLength="92.3" lengthAdjust="spacingAndGlyphs">past</text>
<text class="ls" x="870.5" y="3255.8" font-size="48.8" fill="#222222" textLength="53.4" lengthAdjust="spacingAndGlyphs">12</text>
<text class="ls" x="936.0" y="3255.8" font-size="48.8" fill="#222222" textLength="193.1" lengthAdjust="spacingAndGlyphs">months?</text>
<g fill="none" stroke="#fab370" stroke-width="26.2" stroke-linecap="round" stroke-linejoin="round">
<path d="M1180.1,3106.3 L1225.5,3178.8 L1180.1,3251.2"/><path d="M1233.4,3106.3 L1278.5,3178.8 L1233.4,3251.2"/>
</g>
<rect x="1818.2" y="3025.8" width="9.8" height="325.5" fill="#fde8a6"/>
<text class="ls" x="1300.5" y="3080.0" font-size="48.8" fill="#222222" textLength="99.2" lengthAdjust="spacingAndGlyphs">77%</text>
<text class="ls" x="1427.8" y="3080.0" font-size="48.8" fill="#222222" textLength="69.6" lengthAdjust="spacingAndGlyphs">GP</text>
<text class="ls" x="1301.0" y="3156.5" font-size="48.8" fill="#222222" textLength="98.7" lengthAdjust="spacingAndGlyphs">52%</text>
<text class="ls" x="1428.0" y="3156.5" font-size="48.8" fill="#222222" textLength="247.3" lengthAdjust="spacingAndGlyphs">Pharmacist</text>
<text class="ls" x="1303.5" y="3240.6" font-size="48.8" fill="#222222" textLength="96.1" lengthAdjust="spacingAndGlyphs">41%</text>
<text class="ls" x="1428.0" y="3240.6" font-size="48.8" fill="#222222" textLength="148.8" lengthAdjust="spacingAndGlyphs">Physio</text>
<text class="ls" x="1301.0" y="3318.5" font-size="48.8" fill="#222222" textLength="98.7" lengthAdjust="spacingAndGlyphs">38%</text>
<text class="ls" x="1429.3" y="3318.5" font-size="48.8" fill="#222222" textLength="242.0" lengthAdjust="spacingAndGlyphs">Specialist (</text>
<text class="ls" x="1671.3" y="3318.5" font-size="32.6" fill="#222222" textLength="113.3" lengthAdjust="spacingAndGlyphs">not SCI</text>
<text class="ls" x="1785.8" y="3318.5" font-size="48.8" fill="#222222" textLength="14.2" lengthAdjust="spacingAndGlyphs">)</text>
<text class="ls" x="1845.1" y="3080.4" font-size="48.8" fill="#222222" textLength="99.0" lengthAdjust="spacingAndGlyphs">37%</text>
<text class="ls" x="1972.0" y="3080.4" font-size="48.8" fill="#222222" textLength="153.6" lengthAdjust="spacingAndGlyphs">Dentist</text>
<text class="ls" x="1845.1" y="3156.2" font-size="48.8" fill="#222222" textLength="99.0" lengthAdjust="spacingAndGlyphs">36%</text>
<text class="ls" x="1972.2" y="3156.2" font-size="48.8" fill="#222222" textLength="69.0" lengthAdjust="spacingAndGlyphs">OT</text>
<text class="ls" x="1845.1" y="3240.2" font-size="48.8" fill="#222222" textLength="99.0" lengthAdjust="spacingAndGlyphs">33%</text>
<text class="ls" x="1973.1" y="3240.2" font-size="48.8" fill="#222222" textLength="306.5" lengthAdjust="spacingAndGlyphs">SCI Specialist</text>
<text class="ls" x="1845.1" y="3319.1" font-size="48.8" fill="#222222" textLength="99.0" lengthAdjust="spacingAndGlyphs">31%</text>
<text class="ls" x="1971.9" y="3319.1" font-size="48.8" fill="#222222" textLength="134.1" lengthAdjust="spacingAndGlyphs">Nurse</text>
</svg>
</body></html>
